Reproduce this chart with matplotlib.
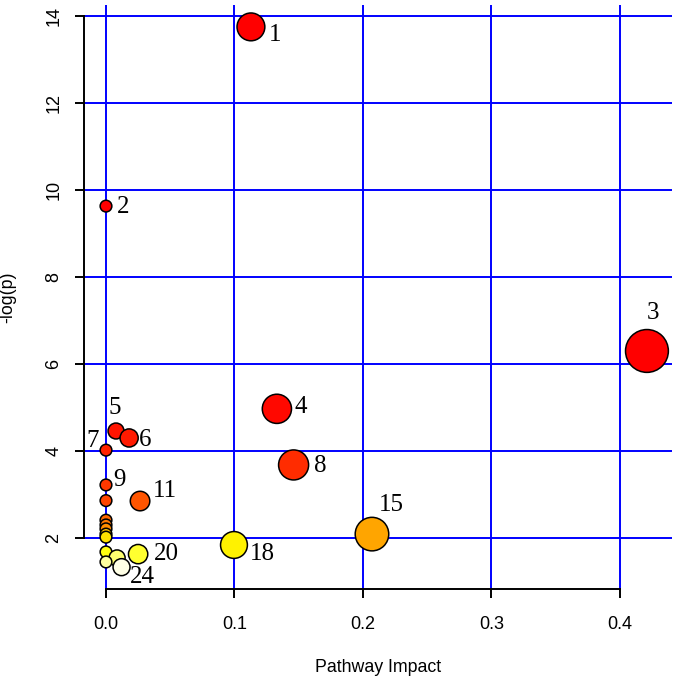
import numpy as np
import matplotlib
matplotlib.use('Agg')
import matplotlib.pyplot as plt

# pathway impact vs -log(p), numbered by p-value rank
ids = [1, 2, 3, 4, 5, 6, 7, 8, 9, 10, 11, 12, 13, 14, 15, 16, 17, 18, 19, 20, 21, 22, 24]
impact = [0.1128, 0.0, 0.421, 0.133, 0.0078, 0.018, 0.0, 0.146, 0.0, 0.0, 0.0265,
          0.0, 0.0, 0.0, 0.207, 0.0, 0.0, 0.0996, 0.0, 0.025, 0.0086, 0.0, 0.0121]
logp = [13.75, 9.63, 6.30, 4.97, 4.46, 4.30, 4.02, 3.68, 3.22, 2.86, 2.85,
        2.41, 2.30, 2.21, 2.09, 2.09, 2.02, 1.84, 1.68, 1.63, 1.54, 1.45, 1.33]
colors = ['#FF0000', '#FF0000', '#FF0000', '#FF0800', '#FF1400', '#FF1A00', '#FF2400',
          '#FF2C00', '#FF3800', '#FF4400', '#FF5500', '#FF6600', '#FF7A00', '#FF8E00',
          '#FFA500', '#FFC000', '#FFE000', '#FFF200', '#FFFF10', '#FFFF30', '#FFFF70',
          '#FFFFA0', '#FFFFE6']

labelled = [1, 2, 3, 4, 5, 6, 7, 8, 9, 11, 15, 18, 20, 24]
# label offsets in pixels (dx right, dy down)
offsets = {1: (24, 8), 2: (17, 1), 3: (6, -38), 4: (24, -2), 5: (-1, -23), 6: (16, 2),
           7: (-13, -9), 8: (27, 1), 9: (13, -5), 11: (25, -10), 15: (19, -29),
           18: (28, 9), 20: (28, 0), 24: (21, 10)}

fig = plt.figure(figsize=(6.75, 6.83), dpi=100)
ax = fig.add_axes([84 / 675, 94 / 683, 588 / 675, 584 / 683])

# circle diameter grows with sqrt(impact), in pixels -> points
diam = (11.7 + 48 * np.sqrt(np.array(impact))) * 0.72
ax.scatter(impact, logp, s=diam ** 2, c=colors, edgecolors='black', linewidths=1.1, zorder=3, clip_on=False)

for i, lab in enumerate(ids):
    if lab in labelled:
        dx, dy = offsets[lab]
        ax.annotate(str(lab), (impact[i], logp[i]), xytext=(dx * 0.72, -dy * 0.72),
                    textcoords='offset points', ha='center', va='center',
                    fontsize=18, family='Liberation Serif', zorder=4)

ax.set_xlim(-0.01712, 0.4405)
ax.set_ylim(0.828, 14.253)
ax.set_xticks([0.0, 0.1, 0.2, 0.3, 0.4])
ax.set_xticklabels(['0.0', '0.1', '0.2', '0.3', '0.4'])
ax.set_yticks([2, 4, 6, 8, 10, 12, 14])
ax.grid(True, color='#0000FF', linewidth=1.4)
ax.set_axisbelow(True)

for s in ['top', 'right']:
    ax.spines[s].set_visible(False)
ax.spines['left'].set_bounds(2, 14)
ax.spines['bottom'].set_bounds(0, 0.4)
for s in ['left', 'bottom']:
    ax.spines[s].set_linewidth(1.4)
ax.tick_params(axis='both', length=6.5, width=1.4, labelsize=13)
ax.tick_params(axis='x', pad=13)
ax.tick_params(axis='y', pad=9)
for t in ax.get_xticklabels() + ax.get_yticklabels():
    t.set_family('Liberation Sans')
for t in ax.get_yticklabels():
    t.set_rotation(90)
    t.set_va('center')

ax.set_xlabel('Pathway Impact', fontsize=12.8, family='Liberation Sans')
ax.set_ylabel('-log(p)', fontsize=12.8, family='Liberation Sans')
ax.xaxis.set_label_coords(0.5, (589 - 659) / 584)
ax.yaxis.set_label_coords((16 - 84) / 588, 0.5)

fig.savefig('out.png', dpi=100)
